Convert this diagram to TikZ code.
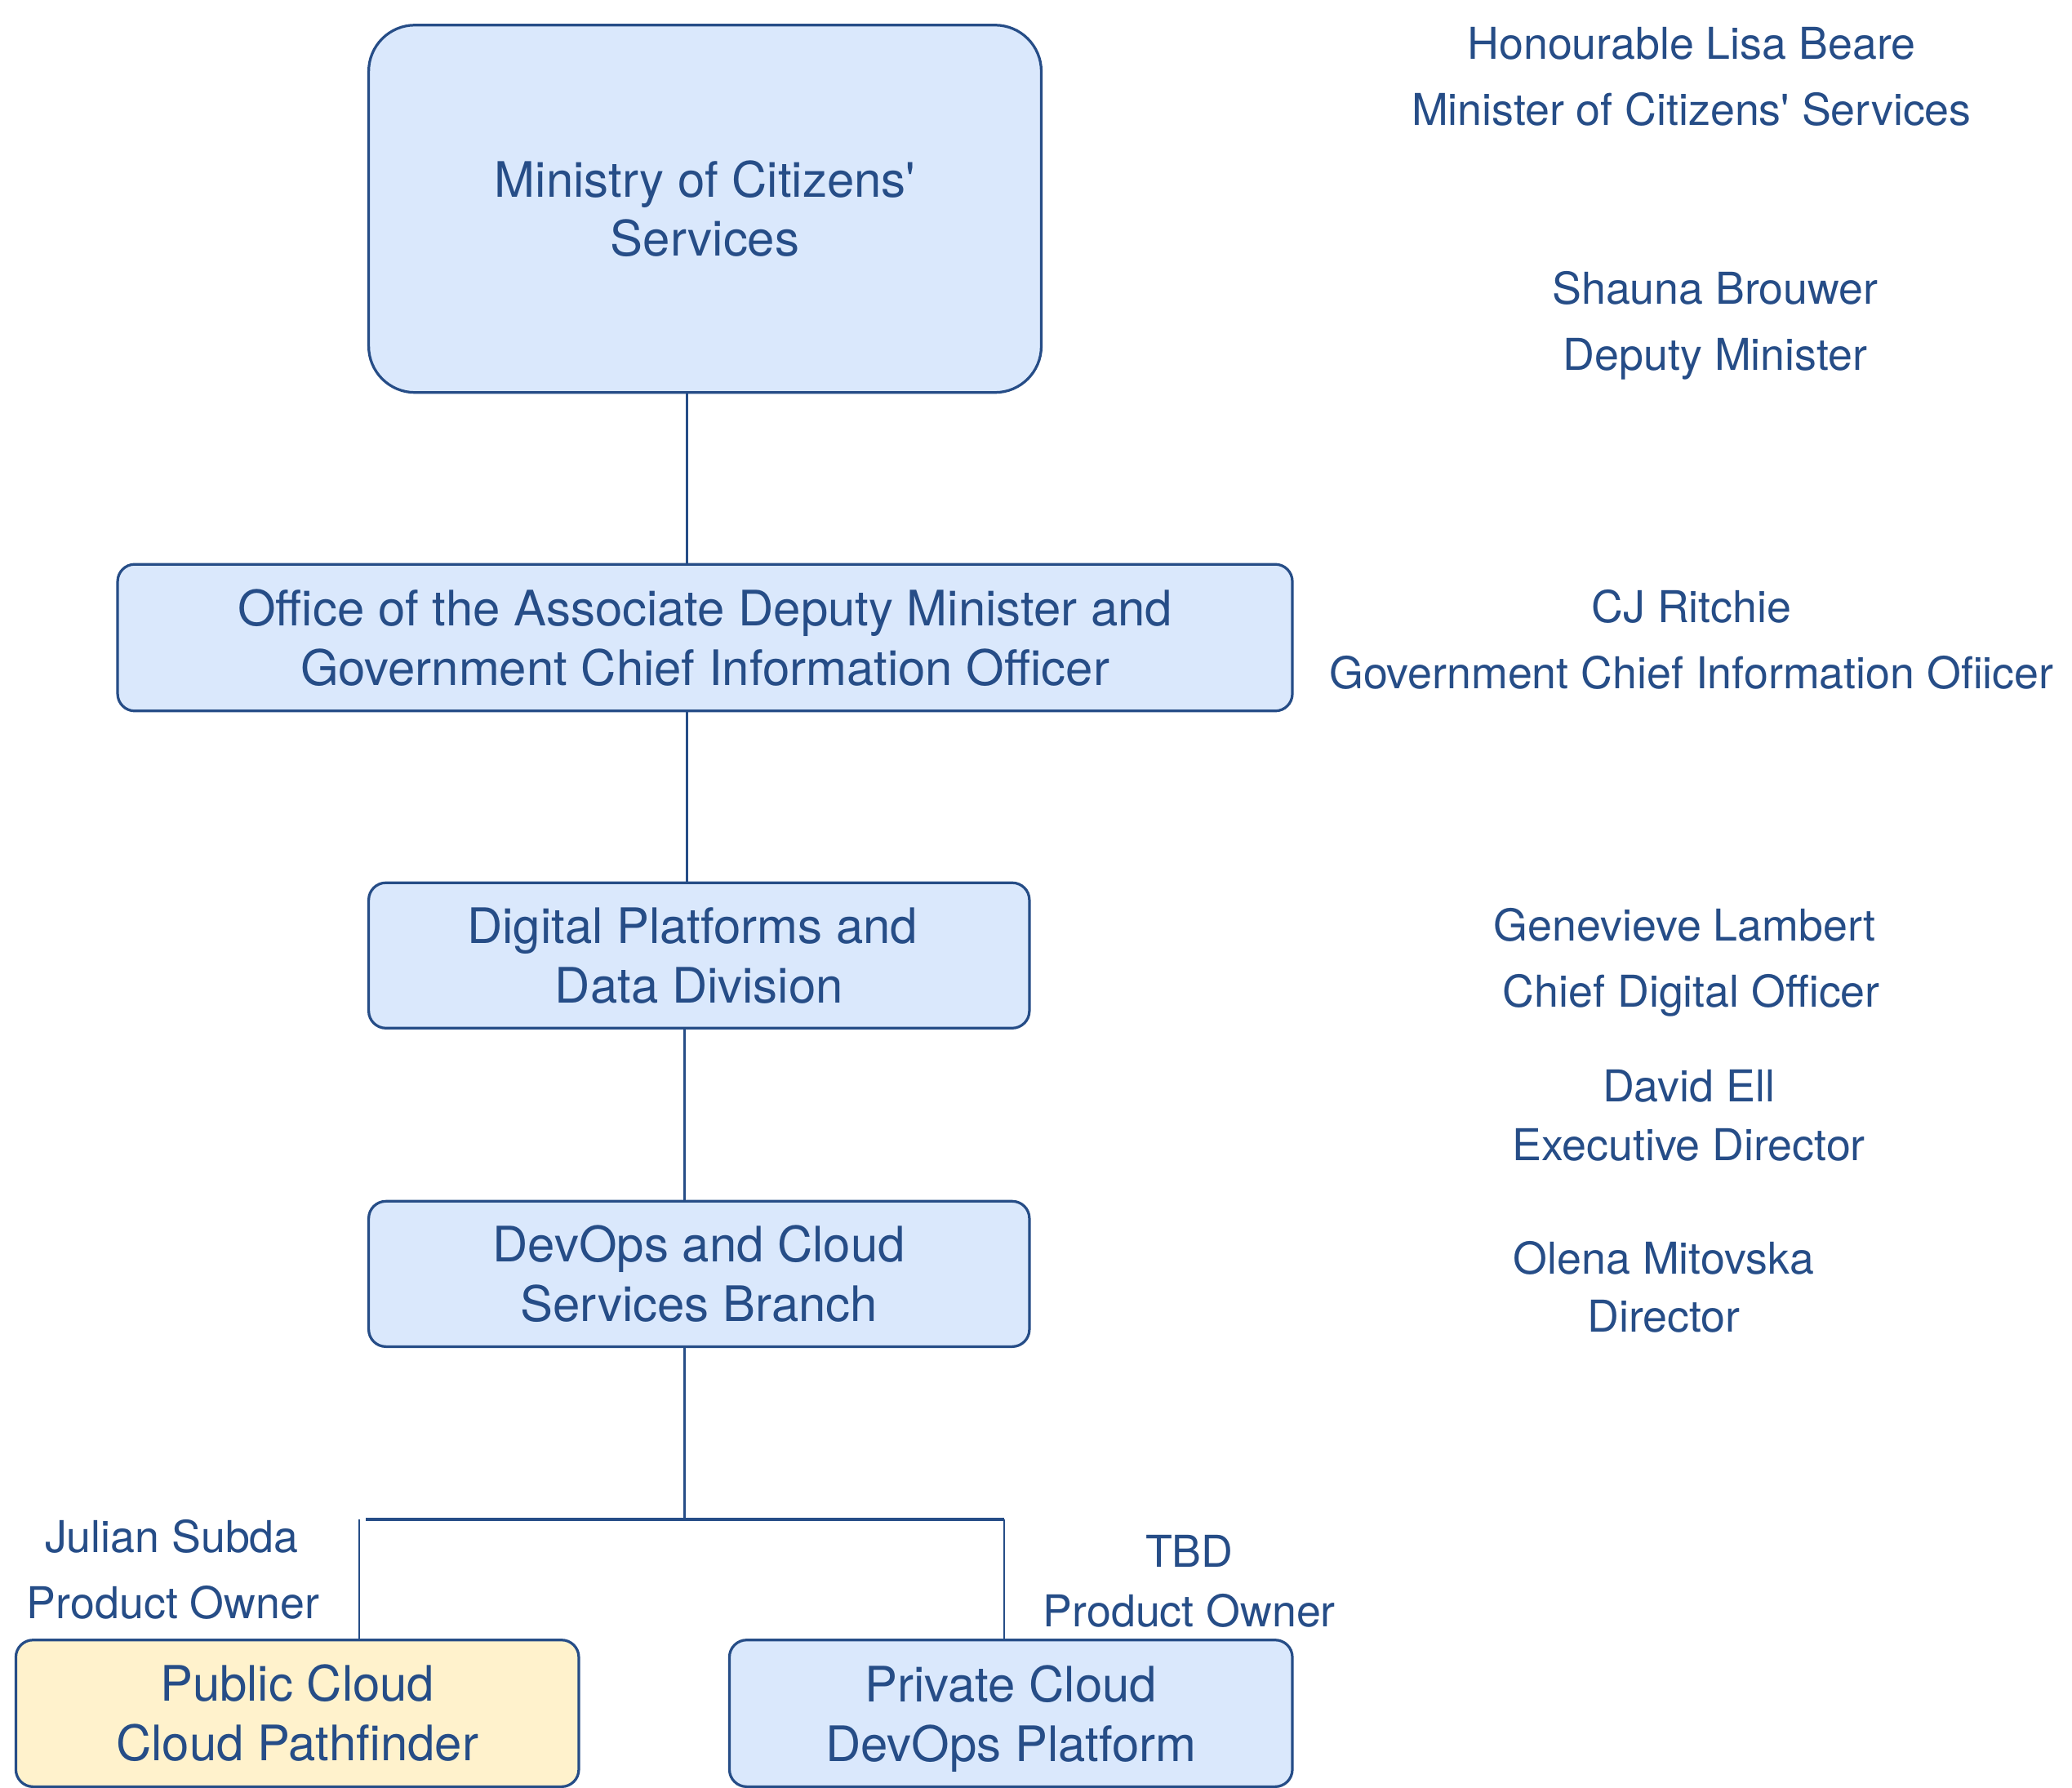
\documentclass[tikz,border=0pt]{standalone}
\usepackage{fontspec}
\setmainfont{TeX Gyre Heros}[Ligatures=TeXOff]
\definecolor{ink}{HTML}{264D87}
\definecolor{bluefill}{HTML}{DAE8FC}
\definecolor{yellowfill}{HTML}{FFF2CC}
\tikzset{
  orgbox/.style={draw=ink, line width=1pt, fill=bluefill, text=ink, align=center,
    rounded corners=6.5pt, inner sep=0pt,
    font=\fontsize{18.5}{22.5}\selectfont},
  pubbox/.style={orgbox, fill=yellowfill},
  lbl/.style={text=ink, inner sep=0pt, text height=12pt, text depth=0pt,
    font=\fontsize{16.6}{20}\selectfont},
  conn/.style={draw=ink, line width=0.75pt},
  bar/.style={draw=ink, line width=1.2pt}
}
\begin{document}
\begin{tikzpicture}[x=0.5pt,y=-0.5pt]
\useasboundingbox (0,0) rectangle (1568,1353);
% boxes
\node[orgbox, rounded corners=17.5pt, minimum width=254.5pt, minimum height=139pt] (box1) at (533.5,158) {Ministry of Citizens'\\Services};
\node[orgbox, minimum width=444.5pt, minimum height=55.5pt] (box2) at (533.5,482.5) {Office of the Associate Deputy Minister and\\Government Chief Information Officer};
\node[orgbox, minimum width=250pt, minimum height=55pt] (box3) at (529,723) {Digital Platforms and\hspace*{5pt}\\Data Division};
\node[orgbox, minimum width=250pt, minimum height=55pt] (box4) at (529,964) {DevOps and Cloud\\Services Branch};
\node[pubbox, minimum width=213pt, minimum height=55.5pt] (box5) at (225,1296.5) {Public Cloud\\Cloud Pathfinder};
\node[orgbox, minimum width=213pt, minimum height=55.5pt] (box6) at (765,1296.5) {Private Cloud\\\raisebox{0pt}[\height][0pt]{DevOps Platform}};
% connectors
\coordinate (t1) at (520,0);
\coordinate (t2) at (518,0);
\coordinate (barM) at (518,1150);
\coordinate (barL) at (277,1150);
\coordinate (barR) at (760,1150);
\coordinate (t5) at (272,1150);
\draw[conn] (t1|-box1.south) -- (t1|-box2.north);
\draw[conn] (t1|-box2.south) -- (t1|-box3.north);
\draw[conn] (t2|-box3.south) -- (t2|-box4.north);
\draw[conn] (t2|-box4.south) -- (barM);
\draw[bar] (barL) -- (barR);
\draw[conn] (t5) -- (t5|-box5.north);
\draw[conn] (barR) -- (barR|-box6.north);
% labels
\node[lbl] (l1a) at (1280,33) {Honourable Lisa Beare};
\node[lbl] (l1b) at (1280,83) {Minister of Citizens' Services};
\node[lbl] (l2a) at (1298,218) {Shauna Brouwer};
\node[lbl] (l2b) at (1298,268) {Deputy Minister};
\node[lbl] (l3a) at (1280,459) {CJ Ritchie};
\node[lbl] (l3b) at (1280,509) {Government Chief Information Ofiicer};
\node[lbl] (l4a) at (1275,700) {Genevieve Lambert};
\node[lbl] (l4b) at (1280,750) {Chief Digital Officer};
\node[lbl] (l5a) at (1278,822) {David Ell};
\node[lbl] (l5b) at (1278,866) {Executive Director};
\node[lbl] (l6a) at (1259,952) {Olena Mitovska};
\node[lbl] (l6b) at (1259,996) {Director};
\node[lbl] (l7a) at (130,1163) {Julian Subda};
\node[lbl] (l7b) at (131,1213) {Product Owner};
\node[lbl] (l8a) at (900,1174) {TBD};
\node[lbl] (l8b) at (900,1219) {Product Owner};
\end{tikzpicture}
\end{document}
